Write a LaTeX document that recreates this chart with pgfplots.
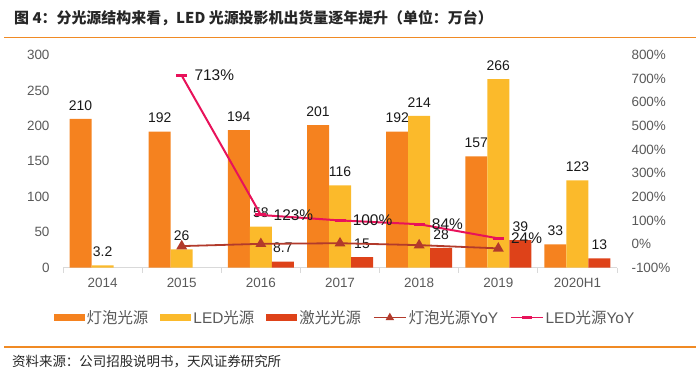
\documentclass[border=0pt]{standalone}
\usepackage{pgfplots}
\pgfplotsset{compat=1.18}
\usepackage{fontspec}
\setmainfont{Liberation Sans}
\newfontfamily\cjk{Noto Sans CJK SC}
\definecolor{bulb}{HTML}{F5821F}
\definecolor{led}{HTML}{FBBA2B}
\definecolor{laser}{HTML}{DE4219}
\definecolor{bulbyoy}{HTML}{B23A2B}
\definecolor{ledyoy}{HTML}{E8125A}
\definecolor{rule}{HTML}{F08A24}
\definecolor{tickgray}{HTML}{595959}
\definecolor{axgray}{HTML}{D9D9D9}
\pgfplotsset{/pgf/number format/assume math mode=true,
  linelegend/.style={legend image code/.code={\draw[mark repeat=2,mark phase=2,##1,sharp plot] plot coordinates {(0bp,0bp)(16bp,0bp)(32bp,0bp)};}},
  barlegend/.style={legend image code/.code={\path[fill=#1] (0bp,-3.5bp) rectangle (31bp,3.5bp);}}}
\begin{document}
\begin{tikzpicture}[x=1bp,y=1bp]
\path[use as bounding box] (0,0) rectangle (700,374);
\node[anchor=west, inner sep=0, text={black!85}] at (14,356) {\cjk\bfseries\fontsize{15}{16}\selectfont 图 4：分光源结构来看，LED 光源投影机出货量逐年提升（单位：万台）};
\draw[rule, line width=1.5bp] (4,336.5) -- (696,336.5);
\draw[rule, line width=1.2bp] (4,27) -- (696,27);
\node[anchor=west, inner sep=0, text={black!85}] at (12,12) {\cjk\fontsize{13.5}{15}\selectfont 资料来源：公司招股说明书，天风证券研究所};

\begin{axis}[
  at={(63bp,106.3bp)}, anchor=south west, scale only axis,
  width=554bp, height=212.7bp,
  xmin=-0.5, xmax=6.5, ymin=0, ymax=300,
  clip=false,
  ybar=0pt, bar width=22bp,
  axis x line*=bottom, axis y line*=left,
  x axis line style={draw=axgray, line width=0.8bp},
  y axis line style={draw=none},
  xtick={0,...,6},
  xticklabels={2014,2015,2016,2017,2018,2019,2020H1},
  minor xtick={-0.5,0.5,...,6.5},
  ytick={0,50,...,300},
  major tick length=0pt, minor tick length=5bp,
  tick align=outside,
  minor x tick style={draw=axgray, line width=0.8bp},
  tick label style={font=\fontsize{13.5}{14}\selectfont, text=tickgray},
  xticklabel style={yshift=-7bp},
  yticklabel style={xshift=-10bp},
  nodes near coords,
  every node near coord/.append style={font=\fontsize{14}{15}\selectfont, text=black!90, yshift=5bp},
  legend style={at={(0.509,-0.235)}, anchor=center, draw=none, fill=none,
    font=\fontsize{15.5}{16}\selectfont, text=tickgray,
    /tikz/every even column/.append style={column sep=10bp}},
  legend columns=5,
  legend cell align=left,
]
\addplot[fill=bulb, draw=none, barlegend=bulb]
  coordinates {(0,210)(1,192)(2,194)(3,201)(4,192)(5,157)(6,33)};
\addplot[fill=led, draw=none, barlegend=led]
  coordinates {(0,3.2)(1,26)(2,58)(3,116)(4,214)(5,266)(6,123)};
\addplot[fill=laser, draw=none, barlegend=laser]
  coordinates {(2,8.7)(3,15)(4,28)(5,39)(6,13)};
\addlegendimage{bulbyoy, line width=1.5bp, mark=triangle*, mark size=3.5bp, linelegend}
\addlegendimage{ledyoy, line width=1.5bp, mark=-, mark size=5bp, mark options={line width=3bp}, linelegend}
\legend{{\cjk 灯泡光源},LED{\cjk 光源},{\cjk 激光光源},{\cjk 灯泡光源}YoY,LED{\cjk 光源}YoY}
\end{axis}

\begin{axis}[
  at={(63bp,106.3bp)}, anchor=south west, scale only axis,
  width=554bp, height=212.7bp,
  xmin=-0.5, xmax=6.5, ymin=-100, ymax=800,
  clip=false,
  axis x line=none, axis y line*=right,
  y axis line style={draw=none},
  ytick={-100,0,...,800},
  major tick length=0pt,
  yticklabel={\pgfmathprintnumber{\tick}\%},
  tick label style={font=\fontsize{13.5}{14}\selectfont, text=tickgray},
  yticklabel style={xshift=11bp},
]
\addplot[bulbyoy, line width=1.8bp, mark=triangle*, mark size=4.5bp]
  coordinates {(1,-8.6)(2,1.0)(3,3.6)(4,-4.5)(5,-18.2)};
\addplot[ledyoy, line width=2bp, mark=-, mark size=5.5bp, mark options={line width=3bp},
  nodes near coords, point meta=explicit symbolic,
  every node near coord/.append style={anchor=west, xshift=8bp, font=\fontsize{15.5}{16}\selectfont, text=black!90}]
  coordinates {(1,713)[713\%] (2,123)[123\%] (3,100)[100\%] (4,84)[84\%] (5,24)[24\%]};
\end{axis}
\end{tikzpicture}
\end{document}
